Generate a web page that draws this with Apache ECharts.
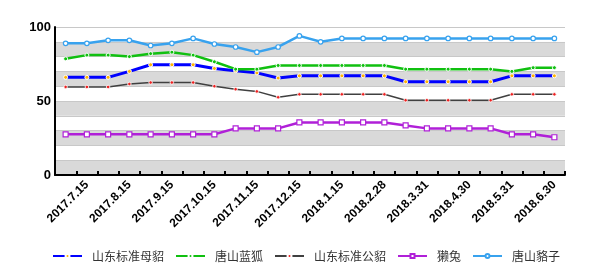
<!DOCTYPE html>
<html>
<head>
<meta charset="utf-8">
<script src="https://cdn.jsdelivr.net/npm/echarts@6/dist/echarts.min.js"></script>
<style>html,body{margin:0;padding:0;background:#fff}#c{width:604px;height:273px}</style>
</head>
<body>
<div id="c"></div>
<script>
const categories = ['2017.6.30','2017.7.15','2017.7.31','2017.8.15','2017.8.31','2017.9.15','2017.9.30','2017.10.15','2017.10.31','2017.11.15','2017.11.30','2017.12.15','2017.12.31','2018.1.15','2018.2.15','2018.2.28','2018.3.15','2018.3.31','2018.4.15','2018.4.30','2018.5.15','2018.5.31','2018.6.15','2018.6.30'];
const seriesNames = ['山东标准母貂','唐山蓝狐','山东标准公貂','獭兔','唐山貉子'];
const muDiao = [66, 66, 66, 70, 74.5, 74.5, 74.5, 72, 70.5, 69, 65.5, 67, 67, 67, 67, 67, 63, 63, 63, 63, 63, 67, 67, 67];
const lanHu = [78.5, 81, 81, 80, 82, 83, 81, 76.5, 71.5, 71.5, 74, 74, 74, 74, 74, 74, 71.5, 71.5, 71.5, 71.5, 71.5, 70, 72.5, 72.5];
const gongDiao = [59.5, 59.5, 59.5, 61.5, 62.5, 62.5, 62.5, 60, 58, 56.5, 52.5, 54.5, 54.5, 54.5, 54.5, 54.5, 50.5, 50.5, 50.5, 50.5, 50.5, 54.5, 54.5, 54.5];
const taTu = [27.5, 27.5, 27.5, 27.5, 27.5, 27.5, 27.5, 27.5, 31.5, 31.5, 31.5, 35.5, 35.5, 35.5, 35.5, 35.5, 33.5, 31.5, 31.5, 31.5, 31.5, 27.5, 27.5, 25.5];
const heZi = [89, 89, 91, 91, 87.5, 89, 92.3, 88.5, 86.5, 83, 86.5, 94, 90, 92.3, 92.3, 92.3, 92.3, 92.3, 92.3, 92.3, 92.3, 92.3, 92.3, 92.3];
const yTicks = [0, 50, 100];

const chart = echarts.init(document.getElementById('c'), null, {renderer: 'canvas'});
function mk(name, data, color, width, symbol, size, fill, border, bw) {
  return {
    name: name, type: 'line', data: data, smooth: false,
    symbol: symbol, symbolSize: size, showSymbol: true,
    lineStyle: {color: color, width: width},
    itemStyle: {color: fill, borderColor: border, borderWidth: bw},
    emphasis: {disabled: true}
  };
}
chart.setOption({
  animation: false,
  backgroundColor: '#ffffff',
  grid: {left: 55, right: 39, top: 27, bottom: 98, containLabel: false},
  legend: {
    bottom: 6, left: 47, itemWidth: 29, itemHeight: 5, itemGap: 11,
    textStyle: {fontFamily: 'Noto Sans CJK SC', fontSize: 12, color: '#333', padding: [0, 0, 0, 5]},
    data: seriesNames
  },
  xAxis: {
    type: 'category', data: categories, boundaryGap: true,
    axisLine: {lineStyle: {color: '#000', width: 2}},
    axisTick: {show: true, inside: true, length: 4, interval: 0, lineStyle: {color: '#000', width: 2}},
    axisLabel: {
      interval: function (i) { return i % 2 === 1; },
      rotate: 45, margin: 8, fontFamily: 'Liberation Sans', fontWeight: 'bold', fontSize: 12, color: '#000'
    },
    splitLine: {show: false}
  },
  yAxis: {
    type: 'value', min: 0, max: 100, interval: 10,
    axisLine: {show: true, lineStyle: {color: '#000', width: 2}},
    axisTick: {show: false},
    axisLabel: {
      margin: 4, fontFamily: 'Liberation Sans', fontWeight: 'bold', fontSize: 13, color: '#000',
      formatter: function (v) { return yTicks.indexOf(v) >= 0 ? String(v) : ''; }
    },
    splitLine: {show: true, lineStyle: {color: '#c8c8c8', width: 1}},
    splitArea: {show: true, areaStyle: {color: ['#d9d9d9', '#ffffff']}}
  },
  series: [
    mk(seriesNames[0], muDiao, '#0000ff', 3, 'circle', 4, '#ffb300', '#ffffff', 1),
    mk(seriesNames[1], lanHu, '#10c010', 2.5, 'circle', 4, '#10c010', '#ffffff', 1),
    mk(seriesNames[2], gongDiao, '#404040', 1.5, 'circle', 3.5, '#ee2020', '#ffffff', 0.8),
    mk(seriesNames[3], taTu, '#b020d8', 2.5, 'rect', 5, '#ffffff', '#b020d8', 1.2),
    mk(seriesNames[4], heZi, '#38a2ee', 2.5, 'circle', 4.5, '#ffffff', '#38a2ee', 1.2)
  ]
});
</script>
</body>
</html>
